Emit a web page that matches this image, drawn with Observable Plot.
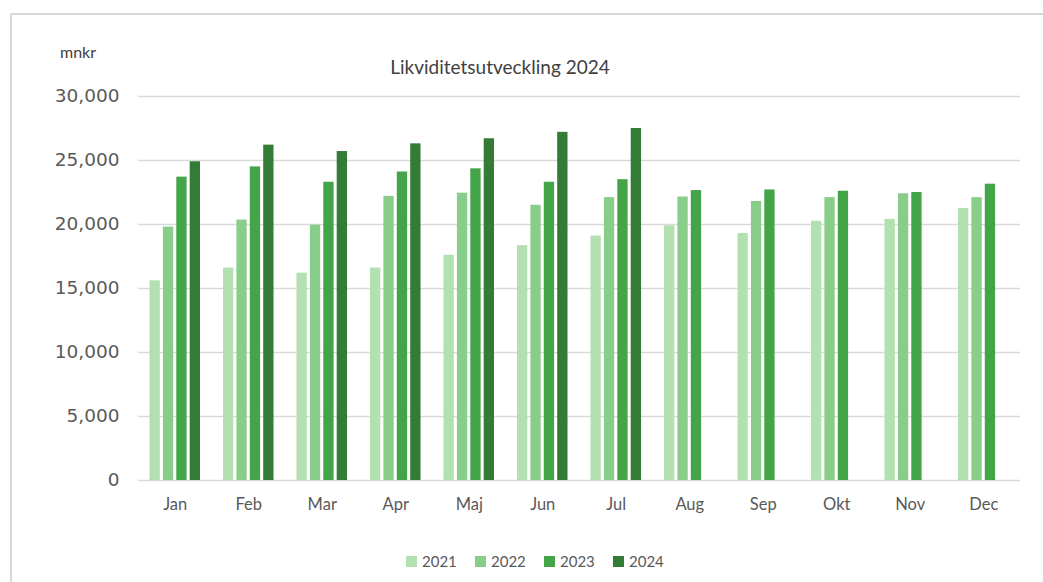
<!DOCTYPE html>
<html>
<head>
<meta charset="utf-8">
<script src="https://cdn.jsdelivr.net/npm/d3@7"></script>
<script src="https://cdn.jsdelivr.net/npm/@observablehq/plot@0.6"></script>
<style>
  html, body { margin: 0; padding: 0; background: #fff; }
  #wrap { position: relative; width: 1043px; height: 582px; overflow: hidden; }
  #frame { position: absolute; left: 10px; top: 13px; width: 1100px; height: 700px;
           border-left: 2px solid #d9d9d9; border-top: 2px solid #d9d9d9; box-sizing: border-box; }
  #chart { position: absolute; left: 0; top: 0; }
  #title { position: absolute; left: 0; width: 1000px; top: 55px; text-align: center;
           font-family: Lato, sans-serif; font-size: 19px; color: #404040; }
  #unit { position: absolute; left: 60px; top: 42px; font-family: Lato, sans-serif;
          font-size: 16px; color: #404040; }
  #legend { position: absolute; left: 406px; top: 552px; display: flex; gap: 0;
            font-family: Lato, sans-serif; font-size: 15px; color: #595959; }
  .item { display: flex; align-items: center; width: 69px; }
  .sw { width: 11px; height: 11px; margin-right: 5px; }
</style>
</head>
<body>
<div id="wrap">
  <div id="frame"></div>
  <div id="chart"></div>
  <div id="title">Likviditetsutveckling 2024</div>
  <div id="unit">mnkr</div>
  <div id="legend"></div>
</div>
<script>
const months = ["Jan","Feb","Mar","Apr","Maj","Jun","Jul","Aug","Sep","Okt","Nov","Dec"];
const years = ["2021","2022","2023","2024"];
const values2021 = [15600,16600,16200,16600,17600,18350,19100,19900,19300,20250,20400,21250];
const values2022 = [19800,20350,19950,22200,22450,21500,22100,22150,21800,22100,22400,22100];
const values2023 = [23700,24500,23300,24100,24350,23300,23500,22650,22700,22600,22500,23150];
const values2024 = [24900,26200,25700,26300,26700,27200,27500,null,null,null,null,null];
const yTicks = [0,5000,10000,15000,20000,25000,30000];
const colors = ["#b3e0b1","#88ce8a","#44a448","#337c36"];

const series = [values2021, values2022, values2023, values2024];
const data = [];
years.forEach((yr, i) => {
  months.forEach((m, j) => {
    const v = series[i][j];
    if (v != null) data.push({month: m, year: yr, value: v});
  });
});

const chart = Plot.plot({
  width: 1043,
  height: 520,
  marginLeft: 138,
  marginRight: 23,
  marginTop: 96,
  marginBottom: 40,
  style: {fontFamily: "Lato, sans-serif", background: "transparent"},
  fx: {domain: months, padding: 0, round: false, label: null},
  x: {domain: years, paddingInner: 0.23, paddingOuter: 0.857, round: false, axis: null},
  y: {domain: [0, 30000], label: null},
  color: {domain: years, range: colors},
  marks: [
    Plot.gridY(yTicks, {stroke: "#d9d9d9", strokeOpacity: 1, strokeWidth: 1.5}),
    Plot.barY(data, {fx: "month", x: "year", y: "value", fill: "year"}),
    Plot.axisY(yTicks, {tickSize: 0, tickPadding: 19, tickFormat: d3.format(","), fontSize: 18.5,
      fontFamily: "DejaVu Sans, sans-serif", fill: "#595959", label: null}),
    Plot.axisFx({anchor: "bottom", tickSize: 0, tickPadding: 18, fontSize: 16.5,
      fontFamily: "Lato, sans-serif", fill: "#595959", label: null})
  ]
});
document.getElementById("chart").appendChild(chart);

const legend = document.getElementById("legend");
years.forEach((yr, i) => {
  const it = document.createElement("div");
  it.className = "item";
  const sw = document.createElement("div");
  sw.className = "sw";
  sw.style.background = colors[i];
  const t = document.createElement("span");
  t.textContent = yr;
  it.appendChild(sw); it.appendChild(t);
  legend.appendChild(it);
});
</script>
</body>
</html>
